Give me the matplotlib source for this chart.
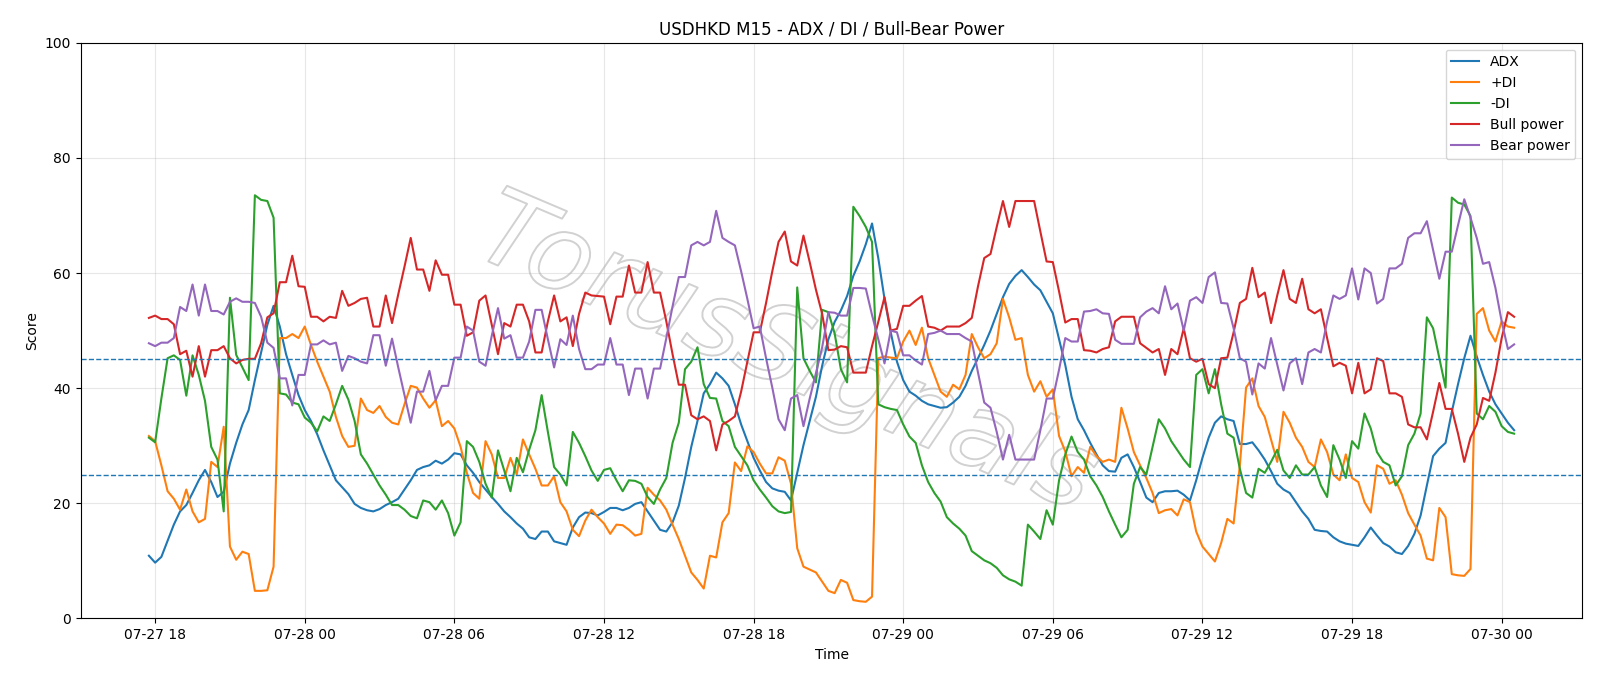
import matplotlib
matplotlib.use("Agg")
import matplotlib.pyplot as plt
import matplotlib.dates as mdates
import matplotlib.patheffects as pe
import pandas as pd

# 15-minute bars, 07-27 17:45 -> 07-30 00:30
start = '2025-07-27 17:45'
n_bars = 220

adx = [10.9, 9.7, 10.7, 13.5, 16.3, 18.6, 19.7, 21.8, 24.0, 25.8,
       23.7, 21.1, 22.0, 26.9, 30.5, 33.7, 36.2, 41.4, 46.2, 51.0,
       54.3, 50.7, 45.9, 42.3, 38.8, 36.2, 34.3, 32.0, 29.2, 26.6,
       24.0, 22.8, 21.6, 19.9, 19.2, 18.8, 18.6, 19.0, 19.7, 20.2,
       20.8, 22.4, 24.0, 25.8, 26.3, 26.6, 27.4, 26.9, 27.6, 28.7,
       28.5, 26.6, 25.3, 23.7, 22.4, 21.1, 19.9, 18.6, 17.6, 16.5,
       15.6, 14.1, 13.8, 15.1, 15.1, 13.4, 13.1, 12.8, 15.8, 17.6,
       18.4, 18.3, 17.9, 18.5, 19.2, 19.2, 18.8, 19.2, 19.9, 20.2,
       18.6, 17.0, 15.4, 15.1, 16.7, 19.6, 24.4, 29.8, 34.3, 39.1,
       40.7, 42.7, 41.7, 40.4, 37.2, 33.7, 30.8, 27.9, 25.7, 23.7,
       22.6, 22.2, 22.0, 20.5, 25.3, 30.1, 34.3, 38.5, 43.9, 48.5,
       51.5, 53.5, 56.0, 59.5, 62.0, 65.0, 68.6, 62.6, 55.5, 49.7,
       44.6, 41.4, 39.4, 38.7, 37.8, 37.2, 36.9, 36.6, 36.7, 37.5,
       38.5, 40.4, 43.0, 45.2, 47.5, 50.0, 52.9, 55.8, 58.1, 59.5,
       60.5, 59.3, 58.0, 57.0, 55.0, 53.0, 48.5, 44.0, 38.5, 34.6,
       32.7, 30.5, 28.5, 26.6, 25.6, 25.5, 27.9, 28.5, 26.3, 23.7,
       21.0, 20.2, 21.8, 22.1, 22.1, 22.2, 21.5, 20.5, 24.0, 27.9,
       31.4, 34.0, 35.1, 34.6, 34.3, 30.3, 30.3, 30.6, 29.2, 27.6,
       25.6, 23.4, 22.4, 21.8, 20.2, 18.6, 17.3, 15.4, 15.2, 15.1,
       14.1, 13.4, 13.0, 12.8, 12.6, 14.1, 15.8, 14.4, 13.1, 12.5,
       11.5, 11.2, 12.6, 14.7, 17.9, 23.1, 28.2, 29.5, 30.5, 35.9,
       40.7, 45.2, 49.1, 45.5, 42.3, 39.4, 37.2, 35.6, 34.0, 32.7]

plus_di = [31.7, 30.8, 26.6, 22.1, 20.8, 18.9, 22.4, 18.6, 16.7, 17.3,
           27.2, 26.3, 33.3, 12.5, 10.2, 11.6, 11.2, 4.8, 4.8, 4.9,
           9.0, 48.7, 48.7, 49.4, 48.7, 50.7, 47.5, 44.6, 42.0, 39.4,
           35.0, 31.7, 29.8, 30.0, 38.2, 36.2, 35.7, 36.9, 35.0, 34.0,
           33.7, 37.2, 40.4, 40.1, 38.2, 36.6, 37.9, 33.4, 34.3, 33.0,
           29.8, 25.3, 21.8, 20.8, 30.8, 28.5, 24.4, 24.4, 27.9, 25.0,
           31.1, 28.5, 26.0, 23.1, 23.1, 24.7, 20.2, 18.6, 15.4, 14.3,
           17.0, 18.9, 17.6, 16.5, 14.7, 16.3, 16.2, 15.4, 14.4, 14.7,
           22.7, 21.5, 20.5, 18.9, 16.3, 13.8, 10.9, 8.0, 6.7, 5.2,
           10.9, 10.6, 16.7, 18.3, 27.1, 25.6, 29.9, 28.9, 26.9, 25.2,
           25.2, 28.0, 27.4, 23.4, 12.2, 9.0, 8.5, 8.0, 6.4, 4.8,
           4.4, 6.7, 6.2, 3.2, 3.0, 2.9, 3.8, 45.2, 45.5, 45.3,
           45.2, 48.1, 50.0, 47.5, 50.5, 45.2, 42.3, 39.4, 38.5, 40.6,
           39.8, 42.3, 49.4, 47.1, 45.2, 45.9, 47.8, 55.5, 52.3, 48.4,
           48.7, 42.3, 39.4, 41.2, 38.5, 39.8, 31.7, 29.0, 24.7, 26.3,
           25.3, 29.8, 28.2, 27.2, 27.6, 27.2, 36.6, 33.0, 28.9, 26.6,
           24.4, 21.8, 18.3, 18.8, 19.0, 17.9, 20.7, 20.2, 15.1, 12.5,
           11.2, 9.9, 13.1, 17.3, 16.5, 26.6, 40.1, 41.7, 36.9, 35.0,
           31.1, 27.2, 35.9, 34.0, 31.4, 29.8, 27.2, 26.3, 31.1, 28.9,
           25.0, 24.0, 28.5, 24.4, 23.7, 20.2, 18.4, 26.6, 26.0, 23.4,
           24.0, 21.5, 18.3, 16.3, 14.4, 10.4, 10.1, 19.2, 17.6, 7.7,
           7.5, 7.4, 8.6, 52.9, 53.9, 50.0, 48.1, 51.6, 50.7, 50.5]

minus_di = [31.4, 30.6, 38.2, 45.2, 45.7, 44.9, 38.7, 45.7, 42.3, 37.8,
            29.8, 27.6, 18.6, 55.7, 45.8, 43.6, 41.4, 73.5, 72.7, 72.5,
            69.6, 39.1, 38.9, 37.5, 37.2, 34.9, 34.0, 32.5, 35.1, 34.3,
            37.2, 40.4, 38.0, 34.3, 28.5, 26.9, 25.0, 23.1, 21.5, 19.7,
            19.7, 18.9, 17.8, 17.4, 20.5, 20.2, 18.9, 20.5, 18.3, 14.4,
            16.7, 30.8, 29.8, 27.2, 23.4, 21.0, 29.2, 25.7, 22.1, 27.9,
            25.4, 29.3, 32.7, 38.8, 32.4, 26.3, 25.0, 23.1, 32.4, 30.5,
            28.2, 25.7, 23.9, 25.8, 26.1, 24.0, 22.1, 24.0, 23.9, 23.4,
            21.1, 19.9, 22.4, 24.4, 30.5, 34.0, 43.3, 44.6, 47.1, 40.7,
            38.3, 38.2, 34.3, 33.4, 29.8, 28.2, 26.6, 24.0, 22.4, 21.0,
            19.5, 18.6, 18.3, 18.5, 57.5, 45.2, 43.0, 41.0, 53.6, 53.2,
            49.5, 43.3, 41.0, 71.5, 69.9, 68.0, 65.4, 37.2, 36.7, 36.4,
            36.2, 33.7, 31.6, 30.5, 26.6, 23.7, 21.8, 20.3, 17.6, 16.5,
            15.6, 14.4, 11.7, 10.9, 10.1, 9.6, 8.8, 7.5, 6.8, 6.4,
            5.7, 16.3, 15.1, 13.8, 18.8, 16.3, 24.0, 28.5, 31.6, 28.9,
            27.6, 24.7, 23.1, 21.1, 18.6, 16.3, 14.1, 15.4, 23.4, 26.3,
            25.0, 29.8, 34.6, 33.0, 30.8, 29.2, 27.6, 26.3, 42.3, 43.3,
            39.1, 43.3, 37.2, 32.1, 31.4, 26.0, 21.8, 21.0, 26.0, 25.3,
            27.2, 29.3, 25.7, 24.4, 26.6, 25.0, 25.0, 26.3, 23.1, 21.1,
            30.1, 27.6, 24.4, 30.8, 29.5, 35.6, 33.0, 28.9, 27.2, 26.6,
            23.1, 24.7, 30.1, 32.1, 35.6, 52.3, 50.4, 45.2, 40.1, 73.1,
            72.2, 71.9, 69.9, 35.6, 34.6, 36.9, 35.9, 33.4, 32.4, 32.1]

bull_power = [52.2, 52.6, 52.0, 52.0, 51.1, 45.9, 46.5, 42.0, 47.3, 42.0,
              46.6, 46.6, 47.3, 45.2, 44.3, 44.9, 45.1, 45.1, 47.8, 52.3,
              53.0, 58.4, 58.4, 63.0, 57.7, 57.6, 52.4, 52.4, 51.6, 52.4,
              52.2, 56.9, 54.3, 54.8, 55.5, 55.7, 50.7, 50.7, 56.1, 51.3,
              56.3, 61.1, 66.1, 60.6, 60.6, 56.9, 62.2, 59.7, 59.7, 54.5,
              54.5, 49.1, 49.7, 55.2, 56.1, 51.0, 45.9, 51.3, 50.7, 54.5,
              54.5, 51.6, 46.2, 46.2, 51.6, 56.1, 51.6, 52.3, 47.3, 52.9,
              56.6, 56.1, 56.0, 55.9, 51.1, 55.9, 55.9, 61.3, 56.6, 56.6,
              61.9, 56.6, 56.6, 51.6, 45.9, 40.6, 40.6, 35.3, 34.6, 35.1,
              34.3, 29.2, 33.7, 34.3, 35.1, 39.4, 44.6, 49.7, 49.7, 54.8,
              60.3, 65.4, 67.2, 62.0, 61.3, 66.5, 61.9, 57.1, 52.9, 46.6,
              46.7, 47.3, 47.1, 42.7, 42.7, 42.7, 47.3, 51.5, 55.8, 50.0,
              50.3, 54.3, 54.3, 55.2, 56.0, 50.7, 50.5, 50.0, 50.7, 50.7,
              50.7, 51.3, 52.2, 57.7, 62.6, 63.3, 68.0, 72.5, 68.0, 72.5,
              72.5, 72.5, 72.5, 67.2, 62.0, 61.9, 56.8, 51.4, 52.0, 52.0,
              46.6, 46.5, 46.2, 46.8, 47.1, 51.6, 52.4, 52.4, 52.4, 47.8,
              47.0, 46.2, 46.8, 42.3, 46.8, 45.9, 50.4, 45.2, 44.6, 45.1,
              40.7, 40.0, 45.2, 45.3, 49.7, 54.8, 55.5, 60.9, 55.8, 56.6,
              51.3, 56.1, 60.5, 55.5, 54.8, 59.0, 53.7, 53.0, 53.7, 48.7,
              43.8, 44.4, 43.9, 39.1, 44.4, 39.1, 39.8, 45.2, 44.7, 39.1,
              39.1, 38.5, 33.7, 33.2, 33.2, 31.1, 35.9, 40.9, 36.4, 36.4,
              32.1, 27.2, 31.4, 33.7, 38.3, 37.8, 42.7, 48.7, 53.2, 52.4]

bear_power = [47.8, 47.3, 47.9, 47.9, 48.7, 54.1, 53.4, 58.0, 52.6, 58.0,
              53.4, 53.4, 52.8, 55.0, 55.6, 55.0, 55.0, 54.8, 52.4, 47.9,
              47.0, 41.7, 41.7, 37.0, 42.3, 42.3, 47.6, 47.6, 48.3, 47.6,
              47.9, 43.0, 45.6, 45.2, 44.6, 44.3, 49.2, 49.2, 43.9, 48.6,
              43.6, 38.8, 34.0, 39.4, 39.4, 43.0, 37.9, 40.4, 40.4, 45.3,
              45.3, 50.7, 50.0, 44.6, 43.9, 49.1, 53.9, 48.6, 49.2, 45.3,
              45.3, 48.1, 53.6, 53.6, 48.5, 43.6, 48.5, 47.5, 52.6, 46.8,
              43.3, 43.3, 44.1, 44.1, 48.7, 44.1, 44.1, 38.8, 43.4, 43.4,
              38.2, 43.4, 43.4, 48.7, 54.2, 59.3, 59.3, 64.8, 65.4, 64.8,
              65.4, 70.8, 66.1, 65.4, 64.8, 60.3, 55.5, 50.4, 50.7, 45.2,
              40.1, 34.6, 32.7, 38.2, 38.8, 33.4, 38.2, 42.6, 47.1, 53.2,
              53.1, 52.6, 52.6, 57.4, 57.4, 57.3, 52.7, 48.5, 44.3, 50.0,
              49.7, 45.7, 45.7, 44.8, 44.1, 49.4, 49.6, 50.0, 49.4, 49.4,
              49.4, 48.7, 48.1, 42.7, 37.5, 36.6, 32.4, 27.6, 31.9, 27.6,
              27.6, 27.6, 27.6, 32.7, 38.2, 38.2, 43.2, 48.7, 48.1, 48.1,
              53.3, 53.4, 53.7, 53.0, 52.9, 48.4, 47.7, 47.7, 47.7, 52.3,
              53.3, 53.9, 53.0, 57.7, 53.7, 54.7, 50.0, 55.2, 55.8, 54.8,
              59.3, 60.1, 54.8, 54.7, 50.4, 45.2, 44.6, 38.9, 44.3, 43.4,
              48.7, 44.1, 39.6, 44.3, 45.2, 40.7, 46.2, 46.8, 46.2, 51.6,
              56.1, 55.5, 56.1, 60.8, 55.4, 60.8, 60.0, 54.7, 55.5, 60.8,
              60.8, 61.6, 66.1, 66.9, 66.9, 69.0, 64.0, 59.0, 63.7, 63.7,
              68.3, 72.8, 69.6, 66.1, 61.6, 61.9, 57.4, 51.6, 46.8, 47.6]

levels = [45, 25]

times = pd.date_range(start, periods=n_bars, freq='15min')

fig, ax = plt.subplots(figsize=(16, 6.86), dpi=100)
fig.subplots_adjust(left=0.0504, right=0.989, bottom=0.0984, top=0.9378)

ax.plot(times, adx, color='tab:blue', label='ADX')
ax.plot(times, plus_di, color='tab:orange', label='+DI')
ax.plot(times, minus_di, color='tab:green', label='-DI')
ax.plot(times, bull_power, color='tab:red', label='Bull power')
ax.plot(times, bear_power, color='tab:purple', label='Bear power')

for lv in levels:
    ax.axhline(lv, color='tab:blue', linestyle='--', linewidth=1)

ax.set_ylim(0, 100)
ax.xaxis.set_major_locator(mdates.HourLocator(byhour=[0, 6, 12, 18]))
ax.xaxis.set_major_formatter(mdates.DateFormatter('%m-%d %H'))
ax.grid(True, alpha=0.3)
ax.set_title('USDHKD M15 - ADX / DI / Bull-Bear Power')
ax.set_xlabel('Time')
ax.set_ylabel('Score')
ax.legend(loc='upper right')

# watermark
wm = ax.text(0.47, 0.455, 'TorusSignals', transform=ax.transAxes,
             fontsize=76, rotation=-23, ha='center', va='center',
             style='italic', color=(1, 1, 1, 0), zorder=0)
wm.set_path_effects([pe.Stroke(linewidth=1.4, foreground=(0.55, 0.55, 0.55, 0.4))])

fig.savefig('out.png', dpi=100)
